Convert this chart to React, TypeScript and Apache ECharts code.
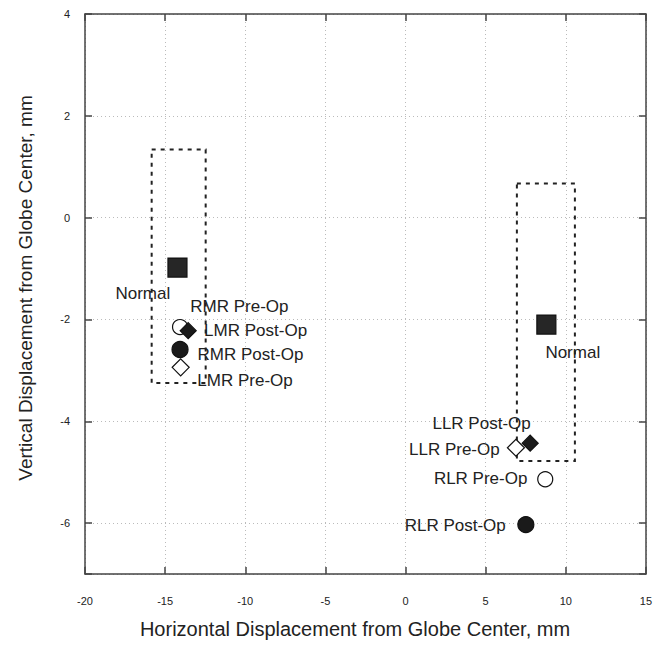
import React, { useEffect, useRef } from "react";
import * as echarts from "echarts";

// ---- data ----
const pointLabels = [
  "Normal",
  "RMR Pre-Op",
  "LMR Post-Op",
  "RMR Post-Op",
  "LMR Pre-Op",
  "Normal",
  "LLR Post-Op",
  "LLR Pre-Op",
  "RLR Pre-Op",
  "RLR Post-Op",
];
const xValues = [-14.23, -14.07, -13.56, -14.07, -14.03, 8.79, 7.78, 6.89, 8.72, 7.51];
const yValues = [-0.98, -2.15, -2.22, -2.59, -2.94, -2.1, -4.43, -4.52, -5.14, -6.03];
const markerKinds = [
  "square",
  "openCircle",
  "filledDiamond",
  "filledCircle",
  "openDiamond",
  "square",
  "filledDiamond",
  "openDiamond",
  "openCircle",
  "filledCircle",
];

// normal-range boxes (x range, y range)
const boxXRanges = [
  [-15.84, -12.47],
  [6.95, 10.57],
];
const boxYRanges = [
  [-3.25, 1.34],
  [-4.78, 0.67],
];

const xTickLabels = [-20, -15, -10, -5, 0, 5, 10, 15];
const yTickLabels = [4, 2, 0, -2, -4, -6];

// ---- layout / style ----
const labelOffsets: number[][] = [
  [-34, 27],
  [60, -20],
  [68, 0],
  [71, 6],
  [65, 14],
  [27, 29],
  [-48, -19],
  [-61, 2],
  [-64, 0],
  [-70, 1],
];

const FONT = "'Liberation Sans', Arial, Helvetica, sans-serif";
const INK = "#222";

const kindStyles: Record<string, any> = {
  filledCircle: { symbol: "circle", size: 16, fill: "#1a1a1a", stroke: "#111" },
  openCircle: { symbol: "circle", size: 15, fill: "#ffffff", stroke: "#111" },
  openDiamond: { symbol: "diamond", size: 17, fill: "#ffffff", stroke: "#111" },
  filledDiamond: { symbol: "diamond", size: 16, fill: "#1a1a1a", stroke: "#111" },
  square: { symbol: "rect", size: 19, fill: "#262626", stroke: "#111" },
};
const drawOrder = ["filledCircle", "openCircle", "openDiamond", "filledDiamond", "square"];

export default function App() {
  const ref = useRef<HTMLDivElement>(null);

  useEffect(() => {
    document.body.style.margin = "0";
    if (!ref.current) return;
    const chart = echarts.init(ref.current, undefined, { renderer: "svg" });

    const axisLineStyle = { color: "#444", width: 1.5 };

    const markerSeries = drawOrder.map((kind) => {
      const st = kindStyles[kind];
      const data = pointLabels
        .map((name, i) => ({ i, name }))
        .filter(({ i }) => markerKinds[i] === kind)
        .map(({ i, name }) => ({
          name,
          value: [xValues[i], yValues[i]],
          label: {
            show: true,
            formatter: name,
            position: [st.size / 2 + labelOffsets[i][0], st.size / 2 + labelOffsets[i][1]],
            align: "center",
            verticalAlign: "middle",
          },
        }));
      return {
        type: "scatter",
        name: kind,
        symbol: st.symbol,
        symbolSize: st.size,
        itemStyle: { color: st.fill, borderColor: st.stroke, borderWidth: 1.2, opacity: 1 },
        label: {
          color: INK,
          fontSize: 17,
          fontFamily: FONT,
        },
        emphasis: { disabled: true },
        data,
        z: 5,
      };
    });

    const boxSeries = {
      type: "scatter",
      name: "boxes",
      data: [],
      silent: true,
      markArea: {
        silent: true,
        itemStyle: {
          color: "rgba(0,0,0,0)",
          borderColor: "#222",
          borderWidth: 2,
          borderType: [4, 5],
        },
        data: boxXRanges.map((xr, k) => [
          { coord: [xr[0], boxYRanges[k][1]] },
          { coord: [xr[1], boxYRanges[k][0]] },
        ]),
      },
      z: 3,
    };

    const gridLine = { show: true, lineStyle: { color: "#bbb", type: [1, 3], width: 1 } };

    const option: any = {
      animation: false,
      backgroundColor: "#ffffff",
      grid: { left: 85, top: 14, right: 8, bottom: 72, containLabel: false },
      xAxis: [
        {
          type: "value",
          position: "bottom",
          min: -20,
          max: 15,
          interval: 5,
          axisLine: { show: true, onZero: false, lineStyle: axisLineStyle },
          axisTick: { show: true, inside: true, length: 7, lineStyle: axisLineStyle },
          axisLabel: {
            margin: 21,
            color: "#222",
            fontSize: 11,
            fontFamily: FONT,
            formatter: (v: number) => (xTickLabels.includes(v) ? String(v) : ""),
          },
          splitLine: gridLine,
        },
        {
          type: "value",
          position: "top",
          min: -20,
          max: 15,
          interval: 5,
          axisLine: { show: true, onZero: false, lineStyle: axisLineStyle },
          axisTick: { show: true, inside: true, length: 7, lineStyle: axisLineStyle },
          axisLabel: { show: false },
          splitLine: { show: false },
        },
      ],
      yAxis: [
        {
          type: "value",
          position: "left",
          min: -7,
          max: 4,
          splitNumber: 5,
          minInterval: 2,
          maxInterval: 2,
          axisLine: { show: true, onZero: false, lineStyle: axisLineStyle },
          axisTick: { show: true, inside: true, length: 7, lineStyle: axisLineStyle },
          axisLabel: {
            margin: 15,
            color: "#222",
            fontSize: 11,
            fontFamily: FONT,
            formatter: (v: number) => (yTickLabels.includes(v) ? String(v) : ""),
          },
          splitLine: gridLine,
        },
        {
          type: "value",
          position: "right",
          min: -7,
          max: 4,
          splitNumber: 5,
          minInterval: 2,
          maxInterval: 2,
          axisLine: { show: true, onZero: false, lineStyle: axisLineStyle },
          axisTick: { show: true, inside: true, length: 7, lineStyle: axisLineStyle },
          axisLabel: { show: false },
          splitLine: { show: false },
        },
      ],
      graphic: [
        {
          type: "text",
          x: 355,
          y: 629,
          style: {
            text: "Horizontal Displacement from Globe Center, mm",
            fontSize: 20,
            fontFamily: FONT,
            fill: INK,
            textAlign: "center",
            textVerticalAlign: "middle",
          },
        },
        {
          type: "text",
          x: 25,
          y: 288,
          rotation: Math.PI / 2,
          style: {
            text: "Vertical Displacement from Globe Center, mm",
            fontSize: 19,
            fontFamily: FONT,
            fill: INK,
            textAlign: "center",
            textVerticalAlign: "middle",
          },
        },
      ],
      series: [boxSeries, ...markerSeries],
    };

    chart.setOption(option);
    return () => chart.dispose();
  }, []);

  return <div ref={ref} style={{ width: 655, height: 646 }} />;
}
